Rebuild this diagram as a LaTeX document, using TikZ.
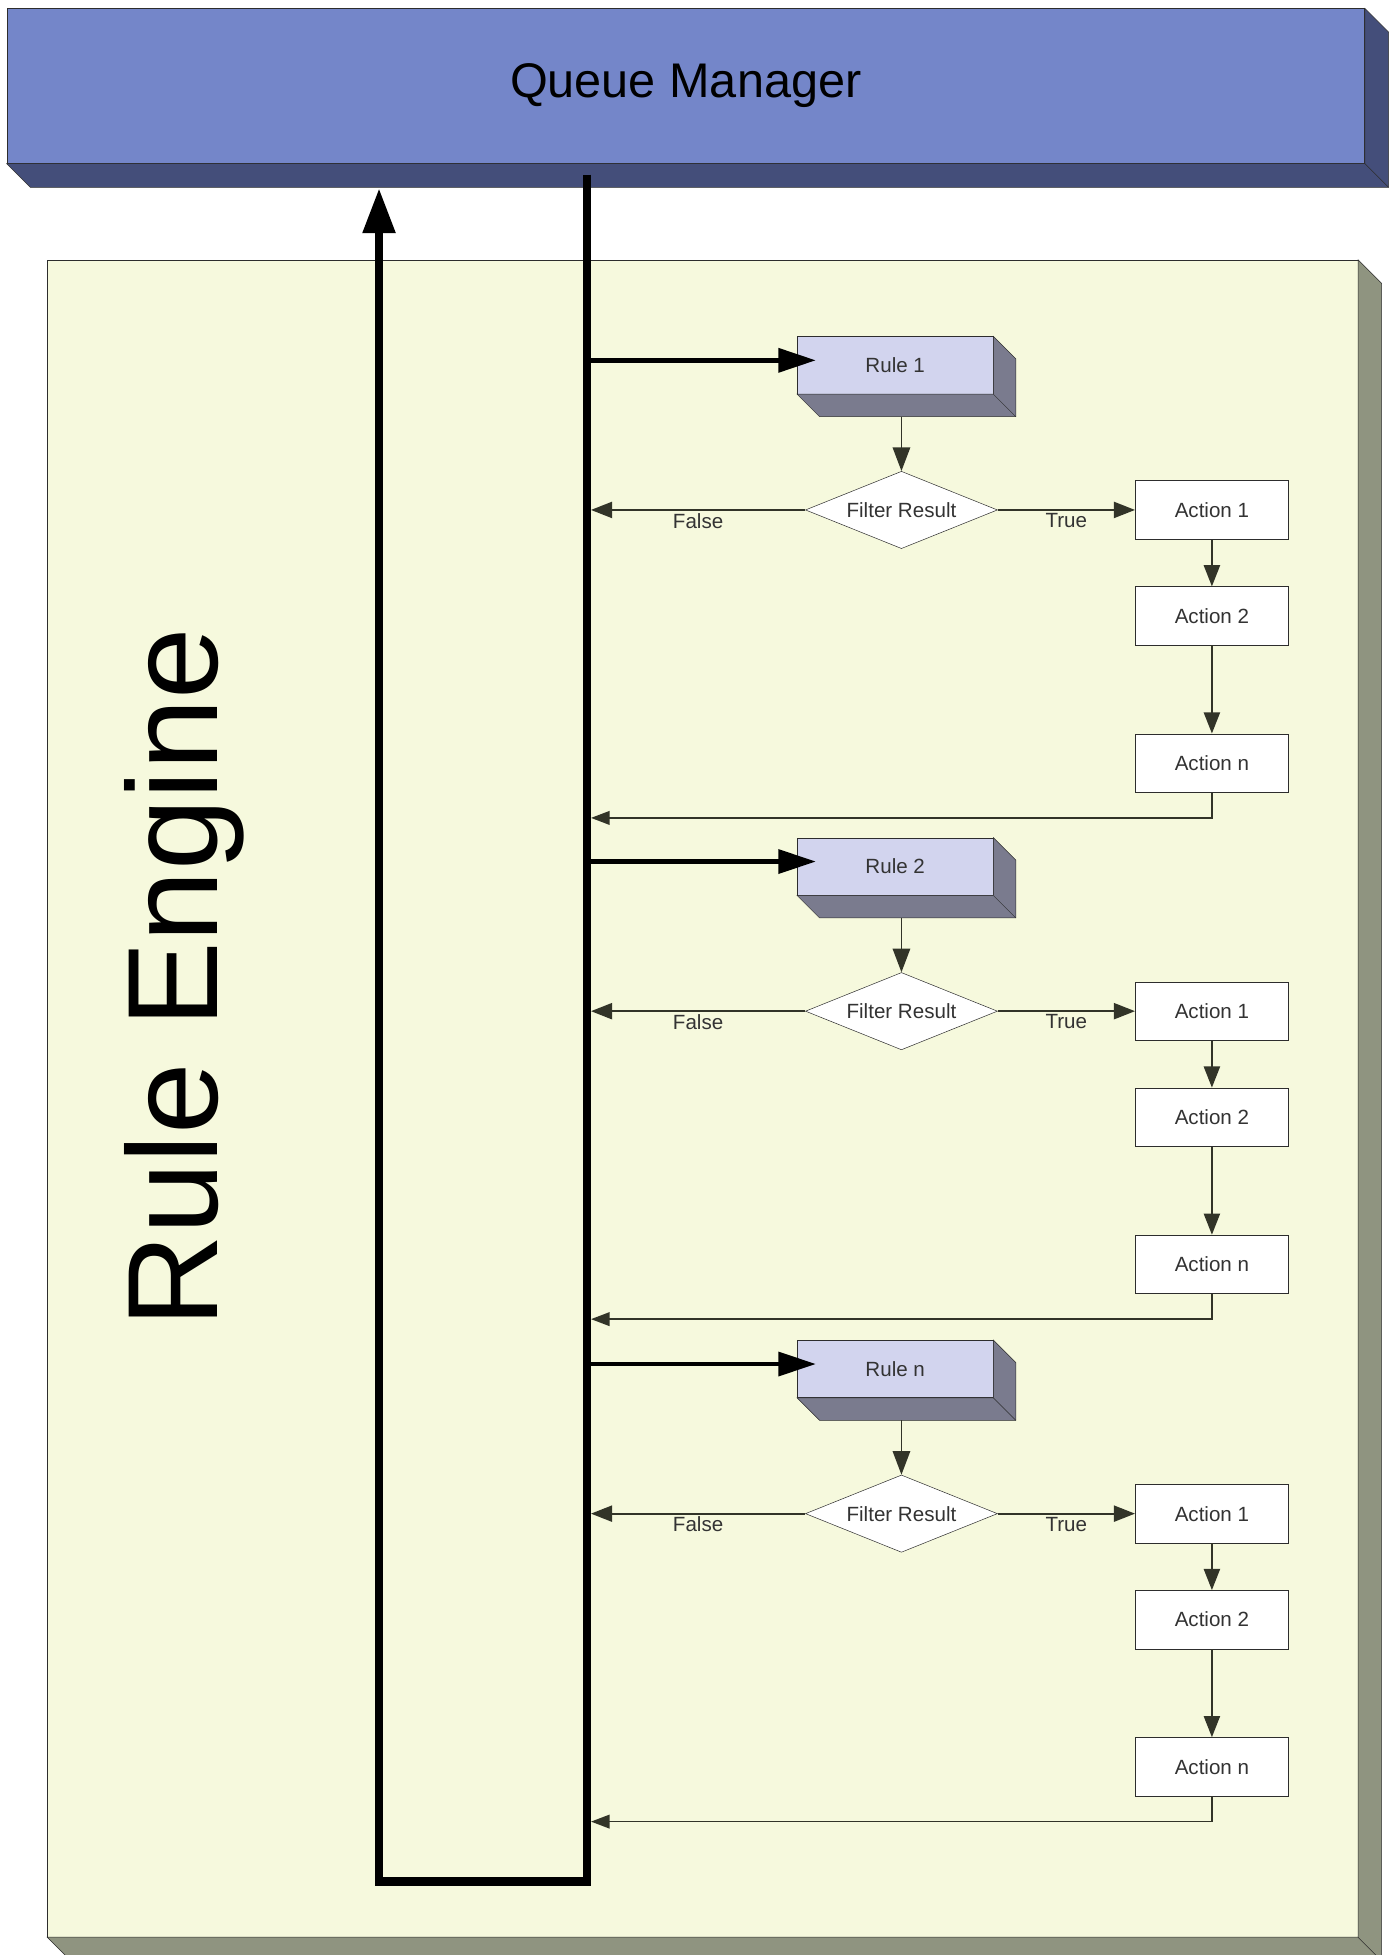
\documentclass[tikz,border=0pt]{standalone}
\usepackage{fontspec}
\setmainfont{Liberation Sans}
\usetikzlibrary{arrows.meta,shapes.geometric,calc}

\definecolor{qmfront}{RGB}{116,134,201}
\definecolor{qmside}{RGB}{68,78,122}
\definecolor{panelfront}{RGB}{246,249,221}
\definecolor{panelside}{RGB}{143,148,128}
\definecolor{rulefront}{RGB}{210,212,238}
\definecolor{ruleside}{RGB}{122,123,142}
\definecolor{edge}{RGB}{45,45,45}
\definecolor{flowline}{RGB}{50,52,40}

\tikzset{
  qmbox/.style={draw=edge, fill=qmfront, minimum width=1089pt, minimum height=124pt, inner sep=0pt, font=\fontsize{39}{44}\selectfont},
  panelbox/.style={draw=edge, fill=panelfront, minimum width=1051pt, minimum height=1345pt, inner sep=0pt},
  rulebox/.style={draw=edge, fill=rulefront, minimum width=157pt, minimum height=46pt, inner sep=0pt, font=\fontsize{16.5}{19}\selectfont, text=black!80},
  actbox/.style={draw=edge, fill=white, minimum width=123pt, minimum height=47pt, inner sep=0pt, font=\fontsize{16.5}{19}\selectfont, text=black!80},
  filterbox/.style={diamond, aspect=2.5, draw=edge, fill=white, minimum width=154pt, minimum height=62pt, inner sep=0pt, font=\fontsize{16.5}{19}\selectfont, text=black!80},
  flowlabel/.style={font=\fontsize{16.5}{19}\selectfont, text=black!80, inner sep=2pt},
  bus/.style={line width=6.5pt, line join=miter},
  busarrow/.style={line width=3.5pt, -{Triangle[length=30pt,width=19pt]}, shorten >=-15pt},
  flow/.style={draw=flowline, line width=1.4pt, -{Triangle[length=17pt,width=13pt]}},
}

\begin{document}
\begin{tikzpicture}[x=1pt,y=-1pt]
\useasboundingbox (0,0) rectangle (1114,1568);

% queue manager bar
\node[qmbox] (qm) at (550,69) {};
\filldraw[draw=edge, fill=qmside] (qm.north east) -- ++(19,19) -- ($(qm.south east)+(19,19)$) -- ($(qm.south west)+(19,19)$) -- (qm.south west) -- (qm.south east) -- cycle;
\draw[edge] (qm.south east) -- ++(19,19);
\node[font=\fontsize{39}{44}\selectfont] (qmtext) at (qm.center) {Queue Manager};

% rule engine panel
\node[panelbox] (engine) at (563.5,881) {};
\filldraw[draw=edge, fill=panelside] (engine.north east) -- ++(19,19) -- ($(engine.south east)+(19,19)$) -- ($(engine.south west)+(19,19)$) -- (engine.south west) -- (engine.south east) -- cycle;
\draw[edge] (engine.south east) -- ++(19,19);
\node[rotate=90, font=\fontsize{103}{110}\selectfont] (title) at (148,784) {Rule Engine};

% main loop
\coordinate (bustop) at (471,140);
\coordinate (busbot) at (471,1509);
\coordinate (upbot) at (304,1509);
\coordinate (uptop) at (304,151);
\draw[bus, -{Triangle[length=36pt,width=25pt]}] (bustop) -- (busbot) -- (upbot) -- (uptop);

\foreach \g/\d/\lab in {1/409/1, 2/811/2, 3/1214/n} {
  \node[rulebox] (rule\g) at (718,\d-116) {Rule \lab};
  \filldraw[draw=edge, fill=ruleside] (rule\g.north east) -- ++(18,18) -- ($(rule\g.south east)+(18,18)$) -- ($(rule\g.south west)+(18,18)$) -- (rule\g.south west) -- (rule\g.south east) -- cycle;
  \draw[edge] (rule\g.south east) -- ++(18,18);
  \coordinate (ruleb\g) at ($(rule\g.south)+(5,18)$);

  \node[filterbox] (filter\g) at (723,\d) {Filter Result};
  \node[actbox] (act\g-1) at (972,\d) {Action 1};
  \node[actbox] (act\g-2) at (972,\d+85) {Action 2};
  \node[actbox] (act\g-n) at (972,\d+203) {Action n};

  \coordinate (busin\g) at (471,\d-120);
  \coordinate (back\g) at (474,\d+247);

  \draw[busarrow] (busin\g) -- (busin\g -| rule\g.west);
  \draw[flow, -{Triangle[length=19pt,width=14pt]}] (filter\g.north |- ruleb\g) -- (filter\g.north);
  \draw[flow] (filter\g.west) -- (filter\g.west -| back\g) node[flowlabel, midway, below] {False};
  \draw[flow] (filter\g.east) -- (act\g-1.west) node[flowlabel, midway, below] {True};
  \draw[flow] (act\g-1.south) -- (act\g-2.north);
  \draw[flow] (act\g-2.south) -- (act\g-n.north);
  \draw[flow, -{Triangle[length=15pt,width=11pt]}] (act\g-n.south) |- (back\g);
}
\end{tikzpicture}
\end{document}
